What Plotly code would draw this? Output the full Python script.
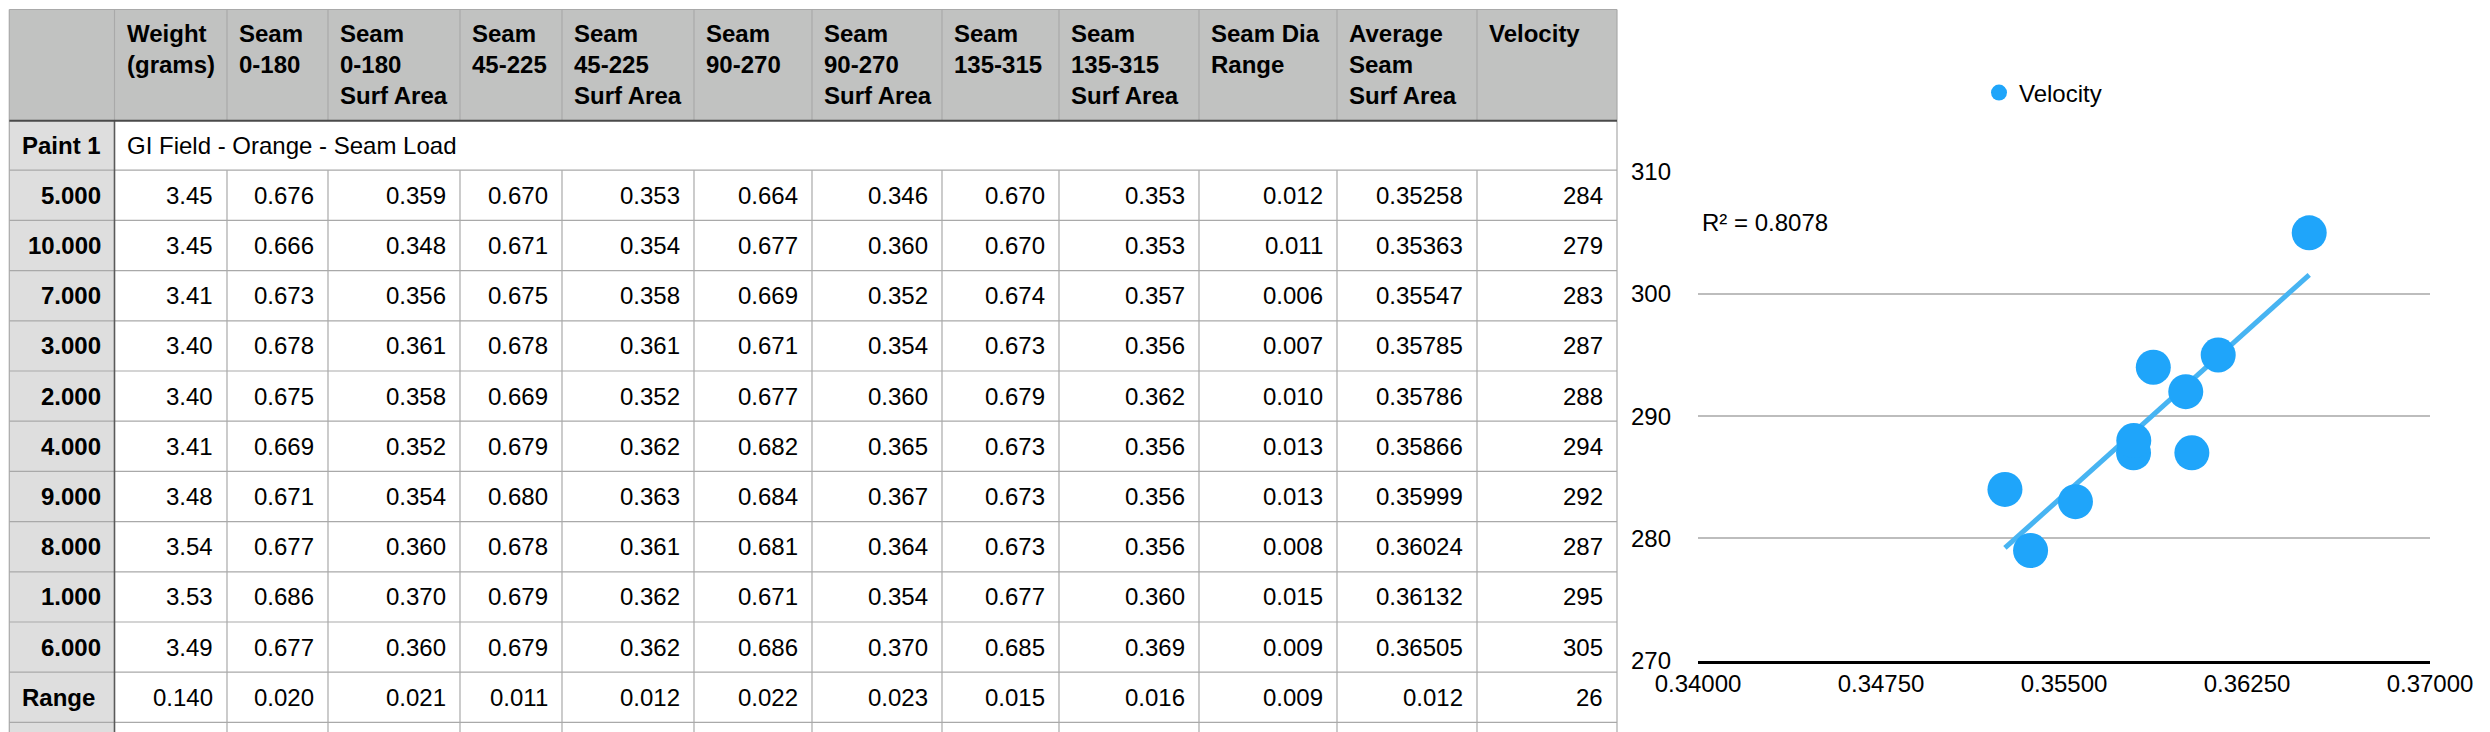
import numpy as np
import plotly.graph_objects as go

W, H = 2490, 732

# ---------------- data ----------------
header_labels = ["", "Weight<br>(grams)", "Seam<br>0-180", "Seam<br>0-180<br>Surf Area",
                 "Seam<br>45-225", "Seam<br>45-225<br>Surf Area", "Seam<br>90-270",
                 "Seam<br>90-270<br>Surf Area", "Seam<br>135-315", "Seam<br>135-315<br>Surf Area",
                 "Seam Dia<br>Range", "Average<br>Seam<br>Surf Area", "Velocity"]
group_label = "Paint 1"
group_title = "GI Field - Orange - Seam Load"
ball_ids = ["5.000", "10.000", "7.000", "3.000", "2.000", "4.000", "9.000", "8.000", "1.000", "6.000"]
weight = [3.45, 3.45, 3.41, 3.40, 3.40, 3.41, 3.48, 3.54, 3.53, 3.49]
seam_0_180 = [0.676, 0.666, 0.673, 0.678, 0.675, 0.669, 0.671, 0.677, 0.686, 0.677]
area_0_180 = [0.359, 0.348, 0.356, 0.361, 0.358, 0.352, 0.354, 0.360, 0.370, 0.360]
seam_45_225 = [0.670, 0.671, 0.675, 0.678, 0.669, 0.679, 0.680, 0.678, 0.679, 0.679]
area_45_225 = [0.353, 0.354, 0.358, 0.361, 0.352, 0.362, 0.363, 0.361, 0.362, 0.362]
seam_90_270 = [0.664, 0.677, 0.669, 0.671, 0.677, 0.682, 0.684, 0.681, 0.671, 0.686]
area_90_270 = [0.346, 0.360, 0.352, 0.354, 0.360, 0.365, 0.367, 0.364, 0.354, 0.370]
seam_135_315 = [0.670, 0.670, 0.674, 0.673, 0.679, 0.673, 0.673, 0.673, 0.677, 0.685]
area_135_315 = [0.353, 0.353, 0.357, 0.356, 0.362, 0.356, 0.356, 0.356, 0.360, 0.369]
seam_dia_range = [0.012, 0.011, 0.006, 0.007, 0.010, 0.013, 0.013, 0.008, 0.015, 0.009]
avg_surf_area = [0.35258, 0.35363, 0.35547, 0.35785, 0.35786, 0.35866, 0.35999, 0.36024, 0.36132, 0.36505]
velocity = [284, 279, 283, 287, 288, 294, 292, 287, 295, 305]
range_label = "Range"
range_row = ["0.140", "0.020", "0.021", "0.011", "0.012", "0.022", "0.023", "0.015", "0.016", "0.009", "0.012", "26"]
r2_text = "R² = 0.8078"
x_ticks = [0.34, 0.3475, 0.355, 0.3625, 0.37]
y_ticks = [270, 280, 290, 300, 310]

data_cols = [weight, seam_0_180, area_0_180, seam_45_225, area_45_225, seam_90_270,
             area_90_270, seam_135_315, area_135_315, seam_dia_range, avg_surf_area, velocity]
col_fmt = ["{:.2f}", "{:.3f}", "{:.3f}", "{:.3f}", "{:.3f}", "{:.3f}", "{:.3f}", "{:.3f}",
           "{:.3f}", "{:.3f}", "{:.5f}", "{:.0f}"]

# ---------------- helpers / layout geometry ----------------
FONT = "Liberation Sans, Arial, Helvetica, sans-serif"
FS = 24


def px(x):
    return x / W


def py(y):
    return 1 - y / H


col_edges = [9.3, 114.5, 227, 328, 460, 562, 694, 812, 942, 1059, 1199, 1337, 1477, 1617]
head_top, head_bot = 9.5, 120.7
group_bot = 170.2
row_h = 50.2
n_rows = len(ball_ids) + 1
row_edges = [group_bot + i * row_h for i in range(n_rows + 1)]
table_bottom = H + 2

shapes = []
annotations = []


def rect(x0, y0, x1, y1, color):
    shapes.append(dict(type="rect", xref="paper", yref="paper", x0=px(x0), x1=px(x1),
                       y0=py(y1), y1=py(y0), fillcolor=color, line=dict(width=0), layer="below"))


def line(x0, y0, x1, y1, color, width=1.2):
    shapes.append(dict(type="line", xref="paper", yref="paper", x0=px(x0), x1=px(x1),
                       y0=py(y0), y1=py(y1), line=dict(color=color, width=width), layer="below"))


def text(x, y, s, xanchor, bold=False, yanchor="middle", size=FS):
    annotations.append(dict(xref="paper", yref="paper", x=px(x), y=py(y), text=(f"<b>{s}</b>" if bold else s),
                            showarrow=False, xanchor=xanchor, yanchor=yanchor, align="left",
                            font=dict(family=FONT, size=size, color="#000000")))


GRID = "#a9a9a9"
# fills
rect(col_edges[0], head_top, col_edges[-1], head_bot, "#c1c2c1")
rect(col_edges[0], head_bot, col_edges[1], table_bottom, "#dedede")
# header borders
line(col_edges[0], head_top, col_edges[-1], head_top, GRID)
for xe in col_edges:
    line(xe, head_top, xe, head_bot, GRID)
# body vertical lines
line(col_edges[0], head_bot, col_edges[0], table_bottom, GRID)
line(col_edges[-1], head_bot, col_edges[-1], table_bottom, GRID)
for xe in col_edges[2:-1]:
    line(xe, group_bot, xe, table_bottom, GRID)
# horizontal row lines
for ye in row_edges:
    line(col_edges[0], ye, col_edges[-1], ye, GRID)
# dark separators
line(col_edges[1], head_bot, col_edges[1], table_bottom, "#5a5a5a", 1.6)
line(col_edges[0], head_bot, col_edges[-1], head_bot, "#4a4a4a", 2)

# header text
for i, lab in enumerate(header_labels):
    if lab:
        text(col_edges[i] + 10, 18, lab, "left", bold=True, yanchor="top")

# group row
gy = (head_bot + group_bot) / 2
text(col_edges[0] + 11, gy, group_label, "left", bold=True)
text(col_edges[1] + 10, gy, group_title, "left")

# data rows
for r, bid in enumerate(ball_ids):
    yc = (row_edges[r] + row_edges[r + 1]) / 2
    text(col_edges[1] - 12, yc, bid, "right", bold=True)
    for c, col in enumerate(data_cols):
        text(col_edges[c + 2] - 12, yc, col_fmt[c].format(col[r]), "right")
# range row
yc = (row_edges[-2] + row_edges[-1]) / 2
text(col_edges[0] + 11, yc, range_label, "left", bold=True)
for c, v in enumerate(range_row):
    text(col_edges[c + 2] - 12, yc, v, "right")

# ---------------- chart ----------------
plot_x0, plot_x1 = 1698, 2430
y270, y310 = 660.5, 171.7

xs = np.array(avg_surf_area)
ys = np.array(velocity)
slope, intercept = np.polyfit(xs, ys, 1)
trend_x = [xs.min(), xs.max()]
trend_y = [slope * v + intercept for v in trend_x]

fig = go.Figure()
fig.add_trace(go.Scatter(x=trend_x, y=trend_y, mode="lines", showlegend=False, hoverinfo="skip",
                         line=dict(color="#47b4f2", width=5)))
fig.add_trace(go.Scatter(x=avg_surf_area, y=velocity, mode="markers", name="Velocity",
                         marker=dict(color="#1fa5fa", size=35, line=dict(width=0))))

text(1700, 222, r2_text, "left")

fig.update_layout(
    width=W, height=H, margin=dict(l=0, r=0, t=0, b=0, pad=0, autoexpand=False),
    paper_bgcolor="white", plot_bgcolor="white",
    font=dict(family=FONT, size=FS, color="#000000"),
    shapes=shapes, annotations=annotations,
    showlegend=True,
    legend=dict(orientation="h", x=px(1979), y=py(93), xanchor="left", yanchor="middle",
                font=dict(family=FONT, size=FS, color="#000000"), bgcolor="rgba(0,0,0,0)"),
    xaxis=dict(domain=[px(plot_x0), px(plot_x1)], range=[0.34, 0.37], tickvals=x_ticks,
               tickformat=".5f", showgrid=False, zeroline=False, showline=True, automargin=False,
               linecolor="#000000", linewidth=2.5, ticks="", tickfont=dict(size=FS)),
    yaxis=dict(domain=[py(y270), py(y310)], range=[270, 310], tickvals=y_ticks, automargin=False,
               showgrid=True, gridcolor="#bdbdbd", gridwidth=1.5, zeroline=False,
               showline=False, ticks="", ticklabelstandoff=26, tickfont=dict(size=FS)),
)

fig.write_html("out.html", config={"displayModeBar": False},
               post_script="document.body.style.margin='0';document.body.style.overflow='hidden';")
